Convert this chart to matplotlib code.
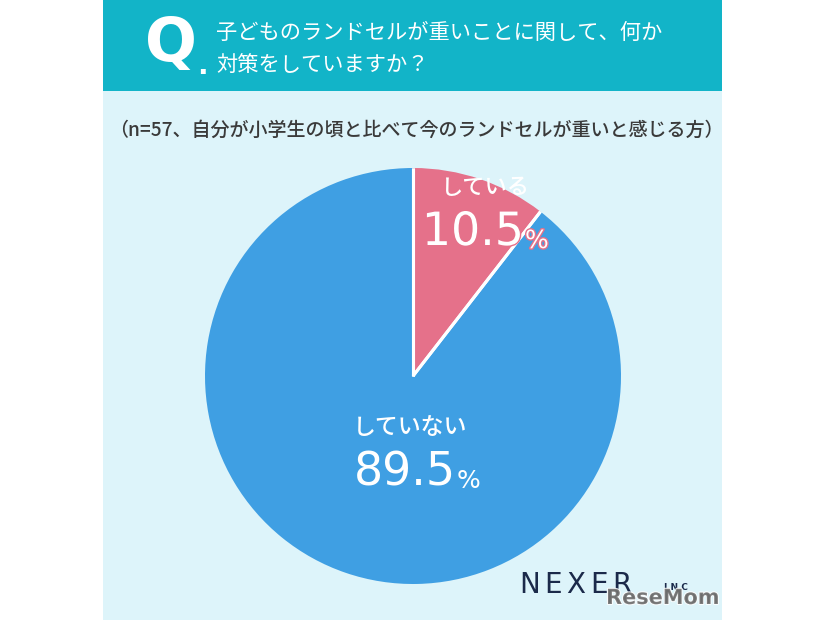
import matplotlib
matplotlib.use("Agg")
import matplotlib.pyplot as plt
from matplotlib.patches import Rectangle
import matplotlib.patheffects as pe
import numpy as np

plt.rcParams['font.family'] = ['Noto Sans CJK JP', 'DejaVu Sans']

# ---- data ----
title_lines = ["子どものランドセルが重いことに関して、何か", "対策をしていますか？"]
subtitle = "（n=57、自分が小学生の頃と比べて今のランドセルが重いと感じる方）"
labels = ["している", "していない"]
values = [10.5, 89.5]
value_texts = ["10.5", "89.5"]

W, H = 826, 620
fig = plt.figure(figsize=(W / 100, H / 100), dpi=100)
ax = fig.add_axes([0, 0, 1, 1])

def Y(y):
    return H - y

TEAL = "#12B4C8"
BG = "#DDF4FA"
BLUE = "#3F9FE3"
PINK = "#E5718A"

# panels
ax.add_patch(Rectangle((103, Y(620)), 619, 620 - 91, facecolor=BG, edgecolor='none', zorder=0))
ax.add_patch(Rectangle((103, Y(91)), 619, 91, facecolor=TEAL, edgecolor='none', zorder=0))

# pie
cx, cy, r = 413, Y(376), 208
wedges, _ = ax.pie(values, colors=[PINK, BLUE], startangle=90, counterclock=False,
                   center=(cx, cy), radius=r,
                   wedgeprops=dict(edgecolor='none', linewidth=0))
for w in wedges:
    w.set_zorder(2)
# white separators between slices
for w in wedges:
    for th in (w.theta1, w.theta2):
        t = np.deg2rad(th)
        ax.plot([cx, cx + r * np.cos(t)], [cy, cy + r * np.sin(t)], color='white',
                lw=2.2, solid_capstyle='butt', zorder=3)

ax.set_xlim(0, W)
ax.set_ylim(0, H)
ax.set_aspect('auto')
ax.axis('off')

# header
ax.text(171, Y(44), "Q", color='white', fontsize=44, fontweight='bold',
        family=['DejaVu Sans'], ha='center', va='center', zorder=3)
ax.text(202, Y(66), ".", color='white', fontsize=20, fontweight='bold',
        family=['DejaVu Sans'], ha='center', va='center', zorder=3)
ax.text(216, Y(33), title_lines[0], color='white', fontsize=15.3, ha='left', va='center', zorder=3)
ax.text(216, Y(65), title_lines[1], color='white', fontsize=15.3, ha='left', va='center', zorder=3)

# subtitle
ax.text(416, Y(130), subtitle, color='#3a3a3a', fontsize=13.7, fontweight='medium',
        ha='center', va='center', zorder=3)

# labels
stroke_p = [pe.withStroke(linewidth=2, foreground=PINK)]
ax.text(485, Y(188), labels[0], color='white', fontsize=16, fontweight='medium',
        ha='center', va='center', zorder=4)
ax.text(524, Y(245), value_texts[0], color='white', fontsize=33, family=['DejaVu Sans'],
        ha='right', va='baseline', zorder=4, path_effects=stroke_p)
ax.text(525, Y(248), "%", color='white', fontsize=18, family=['DejaVu Sans'],
        ha='left', va='baseline', zorder=4, path_effects=stroke_p)

ax.text(410, Y(427), labels[1], color='white', fontsize=16.5, fontweight='medium',
        ha='center', va='center', zorder=4)
ax.text(456, Y(485), value_texts[1], color='white', fontsize=33, family=['DejaVu Sans'],
        ha='right', va='baseline', zorder=4)
ax.text(457, Y(488), "%", color='white', fontsize=18, family=['DejaVu Sans'],
        ha='left', va='baseline', zorder=4)

# logo
NAVY = '#1B2A4A'
for i, ch in enumerate("NEXER"):
    ax.text(530 + i * 23, Y(585), ch, color=NAVY, fontsize=20, ha='center', va='center',
            zorder=4, family=['DejaVu Sans'])
ax.text(676, Y(588), "I N C", color=NAVY, fontsize=6.5, ha='center', va='center', zorder=4,
        family=['DejaVu Sans'], fontweight='bold')
ax.text(663, Y(598), "ReseMom", color='#6a6a6a', fontsize=15, ha='center', va='center', zorder=5,
        family=['DejaVu Sans'], fontweight='bold', alpha=0.85,
        path_effects=[pe.withStroke(linewidth=1.5, foreground='white')])

fig.savefig("out.png", dpi=100)
